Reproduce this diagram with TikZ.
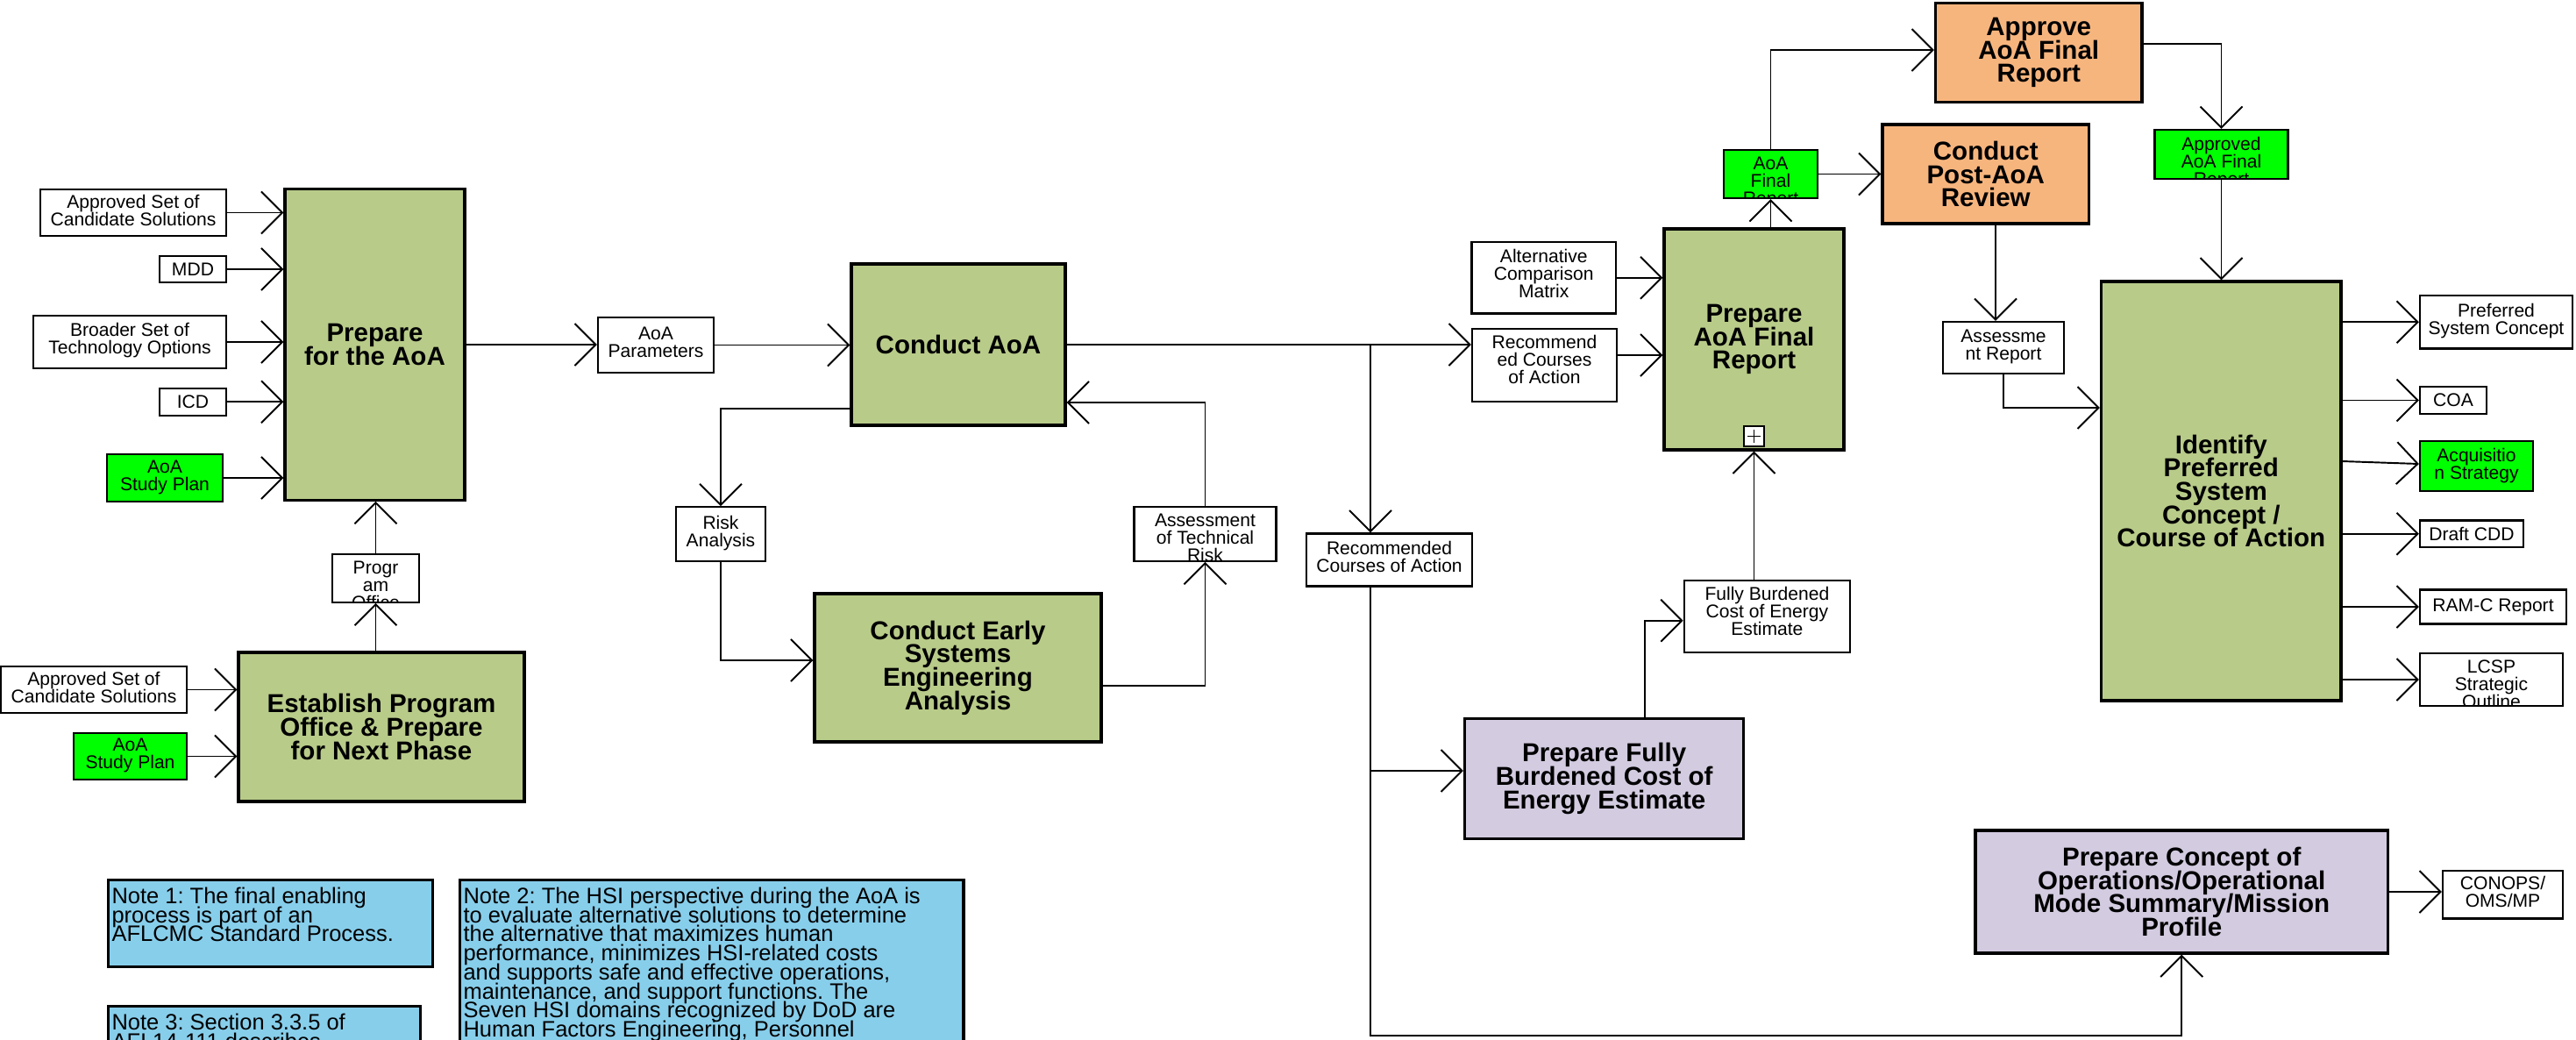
\documentclass[tikz,border=0pt]{standalone}
\usepackage{fontspec}
\setmainfont{Liberation Sans}
\usetikzlibrary{arrows.meta,calc}
\definecolor{procgreen}{RGB}{184,203,137}
\definecolor{brightgreen}{RGB}{0,255,0}
\definecolor{orangebox}{RGB}{247,181,126}
\definecolor{lavbox}{RGB}{211,203,224}
\definecolor{noteblue}{RGB}{135,206,235}
\frenchspacing
\newcommand\smallf{\fontsize{6}{5.7}\selectfont\lineskiplimit=-20pt\relax}
\newcommand\bigf{\fontsize{8.4}{7.6}\selectfont\bfseries\lineskiplimit=-20pt\relax}
\newcommand\notef{\fontsize{7.25}{6.2}\selectfont\lineskiplimit=-20pt\relax}
\tikzset{
  sb/.style={draw, line width=0.65pt, fill=white, font=\smallf, align=center, inner sep=0pt},
  gb/.style={sb, fill=brightgreen},
  pb/.style={draw, line width=0.95pt, fill=procgreen, font=\bigf, align=center, inner sep=0pt},
  ob/.style={pb, fill=orangebox},
  lvb/.style={pb, fill=lavbox},
  nb/.style={draw, line width=0.95pt, fill=noteblue, inner sep=0pt, anchor=north west},
  arr/.style={line width=0.55pt, -{Straight Barb[length=2.4mm,width=4.8mm]}},
  ln/.style={line width=0.45pt},
  lift/.style={text depth=#1},
  toptext/.style 2 args={path picture={\node[inner sep=0pt, draw=none, fill=none,
      minimum width=0pt, minimum height=0pt, align=center, anchor=north, font=\smallf,
      text depth=0pt, path picture={}] (#1) at ([yshift=-0.07cm]path picture bounding box.north) {#2};}},
  ntext/.style 2 args={path picture={\node[inner sep=0pt, draw=none, fill=none,
      minimum width=0pt, minimum height=0pt, align=left, anchor=north west, font=\notef,
      path picture={}] (#1) at ([xshift=0.025cm,yshift=-0.067cm]path picture bounding box.north west) {#2};}},
}
\begin{document}
\begin{tikzpicture}
\useasboundingbox (0,0) rectangle (29.38,-11.85);
\clip (0,0) rectangle (29.38,-11.85);

% ---------- left column ----------
\node[sb, lift=0.06cm, minimum width=2.12cm, minimum height=0.53cm] (a1) at (1.52,-2.425) {Approved Set of\\Candidate Solutions};
\node[sb, minimum width=0.76cm, minimum height=0.306cm] (mdd) at (2.20,-3.07) {MDD};
\node[sb, lift=0.08cm, minimum width=2.20cm, minimum height=0.60cm] (broad) at (1.48,-3.90) {Broader Set of\\Technology Options};
\node[sb, minimum width=0.76cm, minimum height=0.307cm] (icd) at (2.20,-4.583) {ICD};
\node[gb, lift=0.06cm, minimum width=1.32cm, minimum height=0.537cm] (asp1) at (1.88,-5.45) {AoA\\Study Plan};
\node[pb, minimum width=2.05cm, minimum height=3.546cm] (prep) at (4.275,-3.93) {Prepare\\for the AoA};
\node[sb, minimum width=0.99cm, minimum height=0.55cm, toptext={progt}{Progr\\am\\Office}] (prog) at (4.285,-6.592) {};
\node[pb, minimum width=3.26cm, minimum height=1.70cm] (est) at (4.35,-8.29) {Establish Program\\Office \& Prepare\\for Next Phase};
\node[sb, lift=0.06cm, minimum width=2.12cm, minimum height=0.53cm] (a2) at (1.07,-7.865) {Approved Set of\\Candidate Solutions};
\node[gb, lift=0.06cm, minimum width=1.29cm, minimum height=0.53cm] (asp2) at (1.485,-8.625) {AoA\\Study Plan};

% ---------- middle ----------
\node[sb, lift=0.06cm, minimum width=1.32cm, minimum height=0.63cm] (param) at (7.48,-3.935) {AoA\\Parameters};
\node[pb, minimum width=2.44cm, minimum height=1.84cm] (caoa) at (10.93,-3.93) {Conduct AoA};
\node[sb, lift=0.06cm, minimum width=1.015cm, minimum height=0.615cm] (risk) at (8.22,-6.09) {Risk\\Analysis};
\node[pb, minimum width=3.27cm, minimum height=1.69cm] (early) at (10.925,-7.615) {Conduct Early\\Systems\\Engineering\\Analysis};
\node[sb, minimum width=1.62cm, minimum height=0.615cm, toptext={assesst}{Assessment\\of Technical\\Risk}] (assess) at (13.745,-6.09) {};
\node[sb, lift=0.08cm, minimum width=1.89cm, minimum height=0.60cm] (rca2) at (15.845,-6.385) {Recommended\\Courses of Action};
\node[lvb, minimum width=3.182cm, minimum height=1.368cm] (fburd) at (18.297,-8.881) {Prepare Fully\\Burdened Cost of\\Energy Estimate};
\node[sb, lift=0.12cm, minimum width=1.893cm, minimum height=0.82cm] (fbce) at (20.154,-7.03) {Fully Burdened\\Cost of Energy\\Estimate};

% ---------- right middle ----------
\node[sb, lift=0.1cm, minimum width=1.645cm, minimum height=0.815cm] (acm) at (17.6075,-3.1675) {Alternative\\Comparison\\Matrix};
\node[sb, lift=0.12cm, minimum width=1.65cm, minimum height=0.83cm] (rec1) at (17.615,-4.162) {Recommend\\ed Courses\\of Action};
\node[pb, minimum width=2.05cm, minimum height=2.52cm] (pafr) at (20.005,-3.87) {Prepare\\AoA Final\\Report};
\node[sb, line width=0.5pt, minimum width=0.23cm, minimum height=0.23cm] (plus) at (20.005,-4.975) {};
\draw[ln] ([xshift=0.045cm]plus.west) -- ([xshift=-0.045cm]plus.east);
\draw[ln] ([yshift=-0.045cm]plus.north) -- ([yshift=0.045cm]plus.south);
\node[gb, minimum width=1.07cm, minimum height=0.55cm, toptext={afrt}{AoA\\Final\\Report}] (afr) at (20.195,-1.985) {};
\node[ob, minimum width=2.355cm, minimum height=1.128cm] (approve) at (23.2525,-0.60) {Approve\\AoA Final\\Report};
\node[ob, minimum width=2.355cm, minimum height=1.13cm] (post) at (22.6475,-1.985) {Conduct\\Post-AoA\\Review};
\node[sb, lift=0.06cm, minimum width=1.38cm, minimum height=0.59cm] (arep) at (22.85,-3.965) {Assessme\\nt Report};
\node[gb, minimum width=1.52cm, minimum height=0.56cm, toptext={approvedt}{Approved\\AoA Final\\Report}] (approved) at (25.335,-1.76) {};
\node[pb, minimum width=2.734cm, minimum height=4.78cm] (identify) at (25.333,-5.60) {Identify\\Preferred\\System\\Concept /\\Course of Action};

% ---------- outputs ----------
\node[sb, lift=0.06cm, minimum width=1.74cm, minimum height=0.605cm] (psc) at (28.47,-3.6725) {Preferred\\System Concept};
\node[sb, minimum width=0.76cm, minimum height=0.31cm] (coa) at (27.98,-4.565) {COA};
\node[gb, lift=0.06cm, minimum width=1.29cm, minimum height=0.57cm] (acq) at (28.245,-5.315) {Acquisitio\\n Strategy};
\node[sb, minimum width=1.18cm, minimum height=0.304cm] (cdd) at (28.19,-6.088) {Draft CDD};
\node[sb, minimum width=1.67cm, minimum height=0.389cm] (ram) at (28.435,-6.92) {RAM-C Report};
\node[sb, minimum width=1.63cm, minimum height=0.60cm, toptext={lcspt}{LCSP\\Strategic\\Outline}] (lcsp) at (28.415,-7.75) {};
\node[lvb, minimum width=4.704cm, minimum height=1.40cm] (concept) at (24.882,-10.17) {Prepare Concept of\\Operations/Operational\\Mode Summary/Mission\\Profile};
\node[sb, lift=0.06cm, minimum width=1.37cm, minimum height=0.545cm] (conops) at (28.545,-10.2025) {CONOPS/\\OMS/MP};

% ---------- notes ----------
\node[nb, minimum width=3.703cm, minimum height=0.993cm,
  ntext={note1t}{Note 1: The final enabling\\process is part of an\\AFLCMC Standard Process.}] (note1) at (1.217,-10.017) {};
\node[nb, minimum width=5.747cm, minimum height=2.5cm,
  ntext={note2t}{Note 2: The HSI perspective during the AoA is\\to evaluate alternative solutions to determine\\the alternative that maximizes human\\performance, minimizes HSI-related costs\\and supports safe and effective operations,\\maintenance, and support functions. The\\Seven HSI domains recognized by DoD are\\Human Factors Engineering, Personnel}] (note2) at (5.227,-10.017) {};
\node[nb, minimum width=3.558cm, minimum height=1.0cm,
  ntext={note3t}{Note 3: Section 3.3.5 of\\AFI 14-111 describes}] (note3) at (1.217,-11.457) {};

% ---------- connectors ----------
\foreach \n in {a1,mdd,broad,icd,asp1} \draw[arr] (\n.east) -- (\n.east -| prep.west);
\foreach \n in {a2,asp2} \draw[arr] (\n.east) -- (\n.east -| est.west);
\draw[arr] (prog.south |- est.north) -- (prog.south);
\draw[arr] (prog.north) -- (prog.north |- prep.south);
\draw[arr] (prep.east) -- (prep.east -| param.west);
\draw[arr] (param.east) -- (param.east -| caoa.west);
\draw[arr] (caoa.west |- 0,-4.66) -| (risk.north);
\draw[arr] (risk.south) |- (early.west |- 0,-7.53);
\draw[arr] (early.east |- 0,-7.82) -| (assess.south);
\draw[arr] (assess.north) |- (caoa.east |- 0,-4.59);
\draw[arr] (caoa.east) -- (caoa.east -| rec1.west);
\coordinate (j1) at (15.63,-3.93);
\coordinate (j2) at (15.63,-11.807);
\draw[arr] (j1) -- (j1 |- rca2.north);
\draw[arr] (j1 |- rca2.south) -- (j2) -| (concept.south);
\draw[arr] (j1 |- 0,-8.79) -- (fburd.west |- 0,-8.79);
\draw[arr] ([xshift=0.46cm]fburd.north) |- (fbce.west |- 0,-7.077);
\draw[arr] (fbce.north -| pafr.south) -- (pafr.south);
\draw[arr] (acm.east) -- (acm.east -| pafr.west);
\draw[arr] (rec1.east |- 0,-4.05) -- (pafr.west |- 0,-4.05);
\draw[arr] (afr.south |- pafr.north) -- (afr.south);
\draw[arr] (afr.north) |- (approve.west |- 0,-0.57);
\draw[arr] (afr.east) -- (afr.east -| post.west);
\draw[arr] (approve.east |- 0,-0.50) -| (approved.north);
\draw[arr] (approved.south) -- (approved.south |- identify.north);
\draw[arr] (post.south -| 22.76,0) -- (arep.north -| 22.76,0);
\draw[arr] (arep.south) |- (identify.west |- 0,-4.65);
\foreach \n in {psc,coa,cdd,ram,lcsp} \draw[arr] (\n.west -| identify.east) -- (\n.west);
\draw[arr] (identify.east |- 0,-5.26) -- (acq.west |- 0,-5.29);
\draw[arr] (concept.east) -- (concept.east -| conops.west);
\end{tikzpicture}
\end{document}
